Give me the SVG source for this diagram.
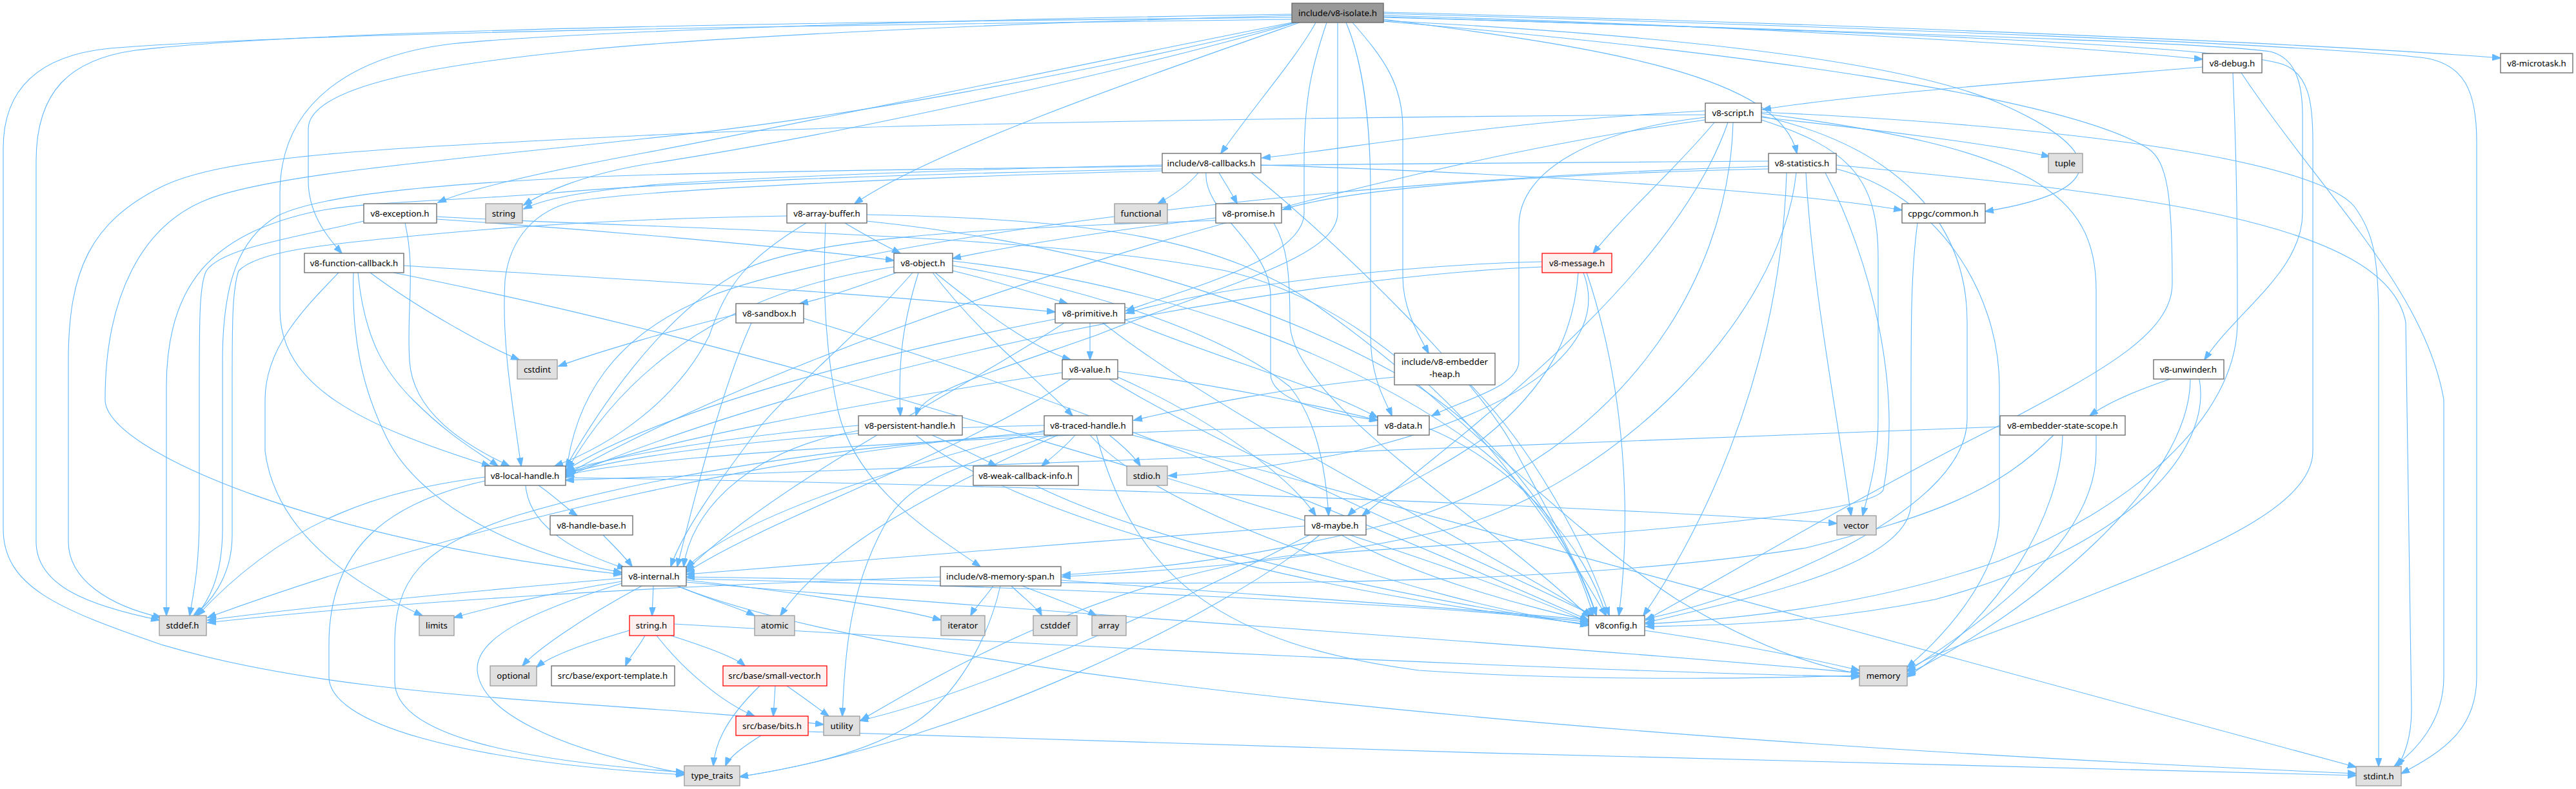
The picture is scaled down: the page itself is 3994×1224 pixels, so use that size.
<svg xmlns="http://www.w3.org/2000/svg" width="3994" height="1224" viewBox="0 0 3994 1224">
<style>
.bg{fill:#fff}
.n rect{fill:#fff;stroke:#666;stroke-width:1.3}
.g rect{fill:#e0e0e0;stroke:#999;stroke-width:1.3}
.r rect{fill:#fff0f0;stroke:#f00;stroke-width:1.3}
.m rect{fill:#999;stroke:#666;stroke-width:1.3}
text{font-family:"Noto Sans","Open Sans","Liberation Sans",sans-serif;font-size:13.3px;text-anchor:middle;fill:#000}
#edges path{fill:none;stroke:#63b8ff;stroke-width:1.1;marker-end:url(#a)}
</style>
<defs>
<marker id="a" markerWidth="14" markerHeight="10" refX="13" refY="5" orient="auto" markerUnits="userSpaceOnUse"><path d="M0,0L14,5L0,10z" fill="#63b8ff" stroke="#63b8ff" stroke-width="0.8"/></marker>
</defs>
<rect class="bg" width="3994" height="1224"/>
<g id="edges">
<!-- isolate -->
<path d="M2003,30 C1400,38 500,48 170,75 C70,85 5,130 5,230 L5,820 C5,910 90,945 250,1000 C550,1090 950,1085 1277,1124"/>
<path d="M2003,27 C1400,33 500,43 210,78 C110,92 56,140 56,250 L56,840 C56,910 140,940 247,962"/>
<path d="M2008,35 C1700,110 1300,185 1000,215 C700,248 420,270 320,310 C220,350 163,460 163,620 C163,700 500,840 964,891"/>
<path d="M2003,35 C1700,95 1250,190 1000,237 C850,265 730,292 679,314"/>
<path d="M2010,35 C1750,110 1300,210 1000,255 C900,272 840,300 812,318"/>
<path d="M2003,24 C1500,38 1100,58 900,78 C700,98 478,130 478,200 L478,280 C478,330 505,365 530,393"/>
<path d="M2003,22 C1500,30 900,48 700,68 C560,85 434,150 434,300 L434,480 C434,600 560,660 760,723"/>
<path d="M2015,35 C1800,110 1450,230 1325,316"/>
<path d="M2040,35 C2010,90 1940,170 1893,238"/>
<path d="M2087,35 C2115,100 2125,200 2125,300 L2125,520 C2125,590 2150,625 2158,645"/>
<path d="M2097,35 C2145,90 2175,130 2175,200 L2175,430 C2175,480 2200,520 2215,548"/>
<path d="M2074,35 L2074,330 C2074,400 1900,440 1700,520 C1500,590 1430,610 1420,645"/>
<path d="M2057,35 C2035,100 2022,150 2022,250 L2022,330 C2022,400 1850,445 1746,482"/>
<path d="M2145,24 C2700,40 3200,70 3415,92"/>
<path d="M2145,19 C2900,38 3600,68 3877,90"/>
<path d="M2145,30 C2500,75 2760,120 2786,238"/>
<path d="M2145,32 C2600,55 2950,95 3100,160 C3260,230 3280,295 3078,328"/>
<path d="M2145,26 C2800,48 3400,63 3520,80 C3560,90 3570,130 3570,180 L3570,330 C3570,420 3470,480 3418,558"/>
<path d="M2145,21 C2900,42 3600,70 3760,90 C3820,100 3840,140 3840,220 L3840,1050 C3840,1130 3790,1165 3723,1200"/>
<path d="M2145,27 C2800,45 3450,70 3540,100 C3580,115 3586,160 3586,220 L3586,700 C3586,790 3400,860 3250,920 C3100,980 3000,1010 2957,1040"/>
<path d="M2145,33 C2700,80 3200,150 3330,230 C3360,250 3368,300 3368,440 C3368,520 3250,580 3100,660 C2900,760 2700,880 2552,962"/>
<!-- debug -->
<path d="M3415,104 C3100,130 2850,150 2733,170"/>
<path d="M3462,113 C3468,250 3469,350 3469,500 C3469,650 3300,790 3100,870 C2900,940 2700,960 2552,968"/>
<path d="M3475,113 C3600,300 3760,450 3789,620 L3789,1050 C3789,1120 3745,1165 3712,1189"/>
<!-- script -->
<path d="M2644,172 C2300,190 2100,230 1957,245"/>
<path d="M2644,178 C2200,180 1400,190 1000,210 C600,230 350,240 250,290 C140,345 106,420 106,560 L106,840 C106,900 170,940 250,958"/>
<path d="M2658,190 C2600,260 2520,330 2470,393"/>
<path d="M2644,182 C2480,200 2355,260 2355,350 L2355,560 C2355,600 2270,620 2220,645"/>
<path d="M2644,186 C2100,260 1300,500 880,735"/>
<path d="M2679,190 C2600,420 2300,650 2112,800"/>
<path d="M2687,190 C2680,450 2500,700 2200,800 C1950,870 1750,885 1647,892"/>
<path d="M2731,182 C2900,200 3100,225 3178,243"/>
<path d="M2731,186 C2870,230 2912,280 2912,400 L2912,650 C2912,720 2895,770 2888,800"/>
<path d="M2731,180 C2950,230 3050,350 3050,500 L3050,650 C3050,800 2700,930 2552,960"/>
<path d="M2731,176 C3150,230 3250,300 3250,450 L3250,700 C3250,850 3050,980 2957,1042"/>
<path d="M2731,174 C3300,200 3600,260 3650,320 C3680,360 3688,400 3688,500 L3688,1189"/>
<!-- statistics -->
<path d="M2742,250 C2000,255 1200,262 900,275 C700,285 500,300 430,335 C370,370 345,440 345,560 L345,820 C345,900 320,935 305,955"/>
<path d="M2742,258 C2000,280 1300,380 1100,460 C950,520 890,620 877,740"/>
<path d="M2742,262 C2400,270 2100,290 1989,325"/>
<path d="M2785,268 C2760,500 2500,750 2250,820 C2000,880 1750,887 1647,895"/>
<path d="M2800,268 C2810,450 2850,650 2870,800"/>
<path d="M2830,268 C2900,400 2950,600 2920,760 C2900,800 2500,830 2000,862 C1700,900 1450,1050 1335,1117"/>
<path d="M2847,262 C3000,300 3100,450 3100,600 L3100,800 C3100,900 3000,1000 2957,1035"/>
<path d="M2847,256 C3300,300 3700,340 3730,500 L3739,1100 C3739,1150 3725,1175 3718,1189"/>
<path d="M2770,268 C2760,600 2620,850 2548,955"/>
<!-- callbacks -->
<path d="M1858,268 C1840,290 1815,305 1795,316"/>
<path d="M1890,268 C1900,285 1910,300 1918,316"/>
<path d="M1802,256 C1500,262 1100,278 1000,288 C900,298 845,308 812,324"/>
<path d="M1802,262 C1400,270 1000,285 850,300 C700,312 560,312 480,330 C330,365 258,440 258,600 L258,955"/>
<path d="M1802,265 C1400,275 1000,295 893,312 C830,325 790,370 783,435 C778,520 790,600 808,723"/>
<path d="M1955,256 C2400,270 2800,300 2949,326"/>
<path d="M1870,268 C1865,330 1970,380 1970,460 L1970,580 C1970,620 2050,640 2136,652"/>
<path d="M1940,268 C2100,400 2300,600 2350,700 C2420,830 2460,900 2475,955"/>
<!-- array buffer -->
<path d="M1310,346 C1350,370 1380,385 1396,393"/>
<path d="M1220,335 C900,340 700,360 600,370 C500,380 400,390 370,420 C360,450 360,500 360,600 L360,830 C360,900 320,940 300,955"/>
<path d="M1250,346 C1160,400 1127,440 1100,520 C1050,620 950,690 860,723"/>
<path d="M1280,346 C1275,450 1280,550 1300,640 C1330,760 1450,830 1520,879"/>
<path d="M1344,333 C1700,340 1900,370 2050,480 C2250,620 2400,800 2600,930 C2750,1020 2850,1040 2883,1045"/>
<path d="M1344,343 C1700,380 2000,480 2200,600 C2380,720 2450,880 2470,955"/>
<!-- exception -->
<path d="M564,343 C450,370 344,385 320,420 C309,440 309,500 309,600 L309,800 C309,880 300,920 294,955"/>
<path d="M628,346 C645,420 630,480 635,560 C640,640 720,690 790,723"/>
<path d="M677,340 C900,355 1200,380 1386,404"/>
<path d="M677,336 C1000,355 1600,360 1900,420 C2200,490 2400,800 2490,955"/>
<!-- function callback -->
<path d="M574,423 C650,480 760,540 805,558"/>
<path d="M525,423 C470,480 411,540 411,620 L411,700 C430,850 600,930 655,955"/>
<path d="M548,423 C545,520 560,600 600,680 C650,780 800,860 964,888"/>
<path d="M555,423 C565,530 600,580 640,620 C700,680 740,700 772,723"/>
<path d="M626,412 C900,430 1300,450 1636,484"/>
<path d="M610,423 C900,480 1200,560 1400,620 C1700,710 2200,850 2463,965"/>
<!-- promise -->
<path d="M1885,338 C1700,360 1550,385 1477,401"/>
<path d="M1885,342 C1500,355 1250,370 1150,420 C1020,490 920,650 877,725"/>
<path d="M1975,346 C1995,380 2000,420 2000,500 C2000,620 2300,800 2465,958"/>
<!-- cppgc -->
<path d="M2973,346 C2963,420 2963,500 2963,620 L2963,780 C2963,880 2700,930 2552,966"/>
<!-- object -->
<path d="M1390,423 C1330,445 1270,465 1240,471"/>
<path d="M1477,420 C1560,440 1620,460 1655,471"/>
<path d="M1450,423 C1520,480 1600,540 1660,558"/>
<path d="M1386,414 C1200,440 1000,520 880,728"/>
<path d="M1415,423 C1330,520 1230,600 1180,660 C1120,740 1060,820 1040,879"/>
<path d="M1424,423 C1400,500 1392,560 1396,645"/>
<path d="M1446,423 C1520,520 1600,580 1663,645"/>
<path d="M1477,412 C1700,450 1900,520 2000,600 C2040,650 2055,720 2060,800"/>
<path d="M1477,405 C1800,440 2100,550 2300,700 C2400,780 2450,880 2475,955"/>
<!-- message -->
<path d="M2391,406 C2200,410 1900,440 1746,486"/>
<path d="M2391,414 C2000,430 1300,560 877,740"/>
<path d="M2447,423 C2440,520 2400,600 2300,680 C2200,750 2110,780 2090,800"/>
<path d="M2455,423 C2500,540 2350,640 2100,700 C1950,730 1850,736 1812,738"/>
<path d="M2460,423 C2520,600 2530,800 2510,955"/>
<!-- sandbox -->
<path d="M1141,488 C1050,510 930,545 866,568"/>
<path d="M1165,501 C1120,600 1080,760 1050,879"/>
<path d="M1246,494 C1600,600 2100,800 2463,962"/>
<!-- primitive -->
<path d="M1690,501 L1690,558"/>
<path d="M1744,496 C1900,560 2050,600 2136,648"/>
<path d="M1650,501 C1500,600 1200,750 1064,885"/>
<path d="M1636,495 C1300,560 1000,650 877,730"/>
<path d="M1710,501 C1900,650 2300,850 2468,955"/>
<!-- value -->
<path d="M1733,576 C1900,600 2050,630 2136,652"/>
<path d="M1660,588 C1500,700 1200,800 1064,888"/>
<path d="M1647,578 C1300,630 1000,690 877,735"/>
<path d="M1733,585 C1880,650 2000,740 2040,800"/>
<path d="M1720,588 C1900,700 2300,870 2470,955"/>
<!-- embedder heap -->
<path d="M2162,585 C2000,600 1850,630 1758,652"/>
<path d="M2280,597 C2380,700 2460,850 2495,955"/>
<!-- unwinder -->
<path d="M3365,588 C3300,610 3260,630 3240,645"/>
<path d="M3396,588 C3396,750 3150,950 2957,1046"/>
<path d="M3410,588 C3430,700 3300,850 3000,930 C2800,970 2650,970 2552,972"/>
<!-- persistent -->
<path d="M1331,668 C1150,700 1070,800 1060,879"/>
<path d="M1331,660 C1100,680 950,710 877,730"/>
<path d="M1445,675 C1480,690 1520,710 1545,723"/>
<path d="M1420,675 C1600,820 2100,930 2463,968"/>
<!-- traced -->
<path d="M1667,675 C1650,695 1630,710 1615,723"/>
<path d="M1720,675 C1745,695 1760,710 1768,723"/>
<path d="M1619,660 C1300,665 1000,700 877,735"/>
<path d="M1619,668 C1400,720 1150,800 1064,880"/>
<path d="M1619,670 C1200,700 700,820 322,958"/>
<path d="M1640,675 C1450,760 1280,850 1210,955"/>
<path d="M1630,675 C1500,720 1420,740 1380,800 C1320,900 1310,1000 1306,1111"/>
<path d="M1619,673 C1300,690 1000,740 800,800 C650,850 612,900 612,1000 L612,1057 C612,1140 800,1180 1061,1198"/>
<path d="M1700,675 C1760,900 1900,1000 2200,1040 C2500,1060 2800,1050 2883,1048"/>
<path d="M1756,675 L3653,1190"/>
<path d="M1690,675 C1800,800 2200,930 2463,970"/>
<!-- data -->
<path d="M2136,660 C1800,665 1000,700 877,738"/>
<path d="M2216,665 C2350,720 2460,850 2490,955"/>
<!-- embedder state scope -->
<path d="M3198,675 C3195,800 3100,960 2957,1050"/>
<path d="M3184,675 C3100,760 3000,800 2800,850 C2300,930 1500,900 1064,895"/>
<path d="M3101,662 C2500,690 1500,720 877,745"/>
<!-- local handle -->
<path d="M752,740 C600,760 450,800 306,955"/>
<path d="M752,746 C600,780 510,850 510,1000 L510,1050 C510,1120 700,1180 1061,1202"/>
<path d="M877,741 C1500,750 2400,780 2848,812"/>
<path d="M835,753 C860,770 880,790 895,800"/>
<path d="M815,753 C820,820 900,860 970,882"/>
<!-- weak cb -->
<path d="M1605,753 C1800,850 2200,930 2463,970"/>
<!-- handle base -->
<path d="M935,830 C955,850 970,865 980,879"/>
<!-- maybe -->
<path d="M2023,816 C1700,840 1300,870 1064,891"/>
<path d="M2046,830 C1900,950 1500,1150 1147,1205"/>
<path d="M2030,830 C1800,950 1500,1080 1333,1118"/>
<path d="M2080,830 C2200,900 2400,950 2463,962"/>
<!-- internal -->
<path d="M964,897 C700,920 450,945 322,962"/>
<path d="M964,902 C850,920 750,945 704,958"/>
<path d="M1013,909 L1011,955"/>
<path d="M1050,909 C1100,930 1150,945 1170,955"/>
<path d="M1064,900 C1250,920 1400,945 1459,962"/>
<path d="M995,909 C900,960 830,1010 810,1033"/>
<path d="M964,905 C820,950 737,990 740,1040 C745,1100 850,1160 1061,1200"/>
<path d="M1064,903 C1600,950 2400,1000 2883,1044"/>
<path d="M1050,909 C1400,1050 2500,1150 3653,1200"/>
<path d="M1064,898 C1600,910 2200,935 2463,965"/>
<!-- memory span -->
<path d="M1540,909 C1525,930 1510,945 1505,955"/>
<path d="M1568,909 C1590,930 1610,945 1615,955"/>
<path d="M1585,909 C1640,930 1680,945 1700,955"/>
<path d="M1551,909 C1530,1000 1480,1080 1420,1120 C1340,1170 1240,1190 1147,1205"/>
<path d="M1458,895 C1000,910 600,935 322,966"/>
<path d="M1645,900 C1900,920 2300,945 2463,962"/>
<!-- string.h -->
<path d="M976,978 C900,1000 850,1020 832,1035"/>
<path d="M1000,986 C990,1005 975,1020 970,1033"/>
<path d="M1040,986 C1100,1005 1140,1020 1155,1033"/>
<path d="M1018,986 C1060,1040 1120,1090 1170,1111"/>
<path d="M1045,968 C1600,1000 2400,1040 2883,1050"/>
<!-- small vector -->
<path d="M1202,1064 L1199,1111"/>
<path d="M1220,1064 C1250,1085 1270,1100 1285,1111"/>
<path d="M1178,1064 C1120,1120 1108,1160 1106,1188"/>
<!-- bits -->
<path d="M1180,1141 C1150,1160 1130,1175 1125,1188"/>
<path d="M1253,1135 C2000,1160 3000,1190 3653,1203"/>
<!-- v8config -->
<path d="M2550,978 C2700,1000 2800,1020 2883,1040"/>
</g>
<g id="n-isolate" class="m"><rect x="2003" y="5" width="142" height="30"/><text x="2074" y="24.5">include/v8-isolate.h</text></g>
<g id="n-debug" class="n"><rect x="3415" y="83" width="92" height="30"/><text x="3461" y="102.5">v8-debug.h</text></g>
<g id="n-microtask" class="n"><rect x="3877" y="83" width="112" height="30"/><text x="3933" y="102.5">v8-microtask.h</text></g>
<g id="n-script" class="n"><rect x="2644" y="160" width="87" height="30"/><text x="2687" y="179.5">v8-script.h</text></g>
<g id="n-callbacks" class="n"><rect x="1802" y="238" width="153" height="30"/><text x="1878" y="257.5">include/v8-callbacks.h</text></g>
<g id="n-statistics" class="n"><rect x="2742" y="238" width="105" height="30"/><text x="2794" y="257.5">v8-statistics.h</text></g>
<g id="n-tuple" class="g"><rect x="3176" y="238" width="53" height="30"/><text x="3202" y="257.5">tuple</text></g>
<g id="n-exception" class="n"><rect x="564" y="316" width="113" height="30"/><text x="620" y="335.5">v8-exception.h</text></g>
<g id="n-string" class="g"><rect x="753" y="316" width="57" height="30"/><text x="781" y="335.5">string</text></g>
<g id="n-arraybuffer" class="n"><rect x="1220" y="316" width="124" height="30"/><text x="1282" y="335.5">v8-array-buffer.h</text></g>
<g id="n-functional" class="g"><rect x="1728" y="316" width="82" height="30"/><text x="1769" y="335.5">functional</text></g>
<g id="n-promise" class="n"><rect x="1885" y="316" width="102" height="30"/><text x="1936" y="335.5">v8-promise.h</text></g>
<g id="n-cppgc" class="n"><rect x="2949" y="316" width="129" height="30"/><text x="3013" y="335.5">cppgc/common.h</text></g>
<g id="n-fcb" class="n"><rect x="472" y="393" width="154" height="30"/><text x="549" y="412.5">v8-function-callback.h</text></g>
<g id="n-object" class="n"><rect x="1386" y="393" width="91" height="30"/><text x="1431" y="412.5">v8-object.h</text></g>
<g id="n-message" class="r"><rect x="2391" y="393" width="108" height="30"/><text x="2445" y="412.5">v8-message.h</text></g>
<g id="n-sandbox" class="n"><rect x="1141" y="471" width="105" height="30"/><text x="1193" y="490.5">v8-sandbox.h</text></g>
<g id="n-primitive" class="n"><rect x="1636" y="471" width="108" height="30"/><text x="1690" y="490.5">v8-primitive.h</text></g>
<g id="n-cstdint" class="g"><rect x="802" y="558" width="62" height="30"/><text x="833" y="577.5">cstdint</text></g>
<g id="n-value" class="n"><rect x="1647" y="558" width="86" height="30"/><text x="1690" y="577.5">v8-value.h</text></g>
<g id="n-embedderheap" class="n"><rect x="2162" y="548" width="156" height="49"/><text x="2240" y="566">include/v8-embedder</text><text x="2240" y="585">-heap.h</text></g>
<g id="n-unwinder" class="n"><rect x="3339" y="558" width="109" height="30"/><text x="3393" y="577.5">v8-unwinder.h</text></g>
<g id="n-persistent" class="n"><rect x="1331" y="645" width="161" height="30"/><text x="1411" y="664.5">v8-persistent-handle.h</text></g>
<g id="n-traced" class="n"><rect x="1619" y="645" width="137" height="30"/><text x="1687" y="664.5">v8-traced-handle.h</text></g>
<g id="n-data" class="n"><rect x="2136" y="645" width="80" height="30"/><text x="2176" y="664.5">v8-data.h</text></g>
<g id="n-ess" class="n"><rect x="3101" y="645" width="194" height="30"/><text x="3198" y="664.5">v8-embedder-state-scope.h</text></g>
<g id="n-localhandle" class="n"><rect x="752" y="723" width="125" height="30"/><text x="814" y="742.5">v8-local-handle.h</text></g>
<g id="n-weakcb" class="n"><rect x="1509" y="723" width="163" height="30"/><text x="1590" y="742.5">v8-weak-callback-info.h</text></g>
<g id="n-stdio" class="g"><rect x="1747" y="723" width="63" height="30"/><text x="1778" y="742.5">stdio.h</text></g>
<g id="n-handlebase" class="n"><rect x="853" y="800" width="128" height="30"/><text x="917" y="819.5">v8-handle-base.h</text></g>
<g id="n-maybe" class="n"><rect x="2023" y="800" width="95" height="30"/><text x="2070" y="819.5">v8-maybe.h</text></g>
<g id="n-vector" class="g"><rect x="2848" y="800" width="61" height="30"/><text x="2878" y="819.5">vector</text></g>
<g id="n-internal" class="n"><rect x="964" y="879" width="100" height="30"/><text x="1014" y="898.5">v8-internal.h</text></g>
<g id="n-memspan" class="n"><rect x="1458" y="879" width="187" height="30"/><text x="1551" y="898.5">include/v8-memory-span.h</text></g>
<g id="n-stddef" class="g"><rect x="247" y="955" width="73" height="31"/><text x="283" y="975">stddef.h</text></g>
<g id="n-limits" class="g"><rect x="650" y="955" width="54" height="31"/><text x="677" y="975">limits</text></g>
<g id="n-stringh" class="r"><rect x="976" y="955" width="69" height="31"/><text x="1010" y="975">string.h</text></g>
<g id="n-atomic" class="g"><rect x="1170" y="955" width="62" height="31"/><text x="1201" y="975">atomic</text></g>
<g id="n-iterator" class="g"><rect x="1459" y="955" width="68" height="31"/><text x="1493" y="975">iterator</text></g>
<g id="n-cstddef" class="g"><rect x="1602" y="955" width="68" height="31"/><text x="1636" y="975">cstddef</text></g>
<g id="n-array" class="g"><rect x="1693" y="955" width="53" height="31"/><text x="1719" y="975">array</text></g>
<g id="n-v8config" class="n"><rect x="2463" y="955" width="87" height="31"/><text x="2506" y="975">v8config.h</text></g>
<g id="n-optional" class="g"><rect x="760" y="1033" width="72" height="31"/><text x="796" y="1053">optional</text></g>
<g id="n-exporttemplate" class="n"><rect x="855" y="1033" width="191" height="31"/><text x="950" y="1053">src/base/export-template.h</text></g>
<g id="n-smallvector" class="r"><rect x="1121" y="1033" width="161" height="31"/><text x="1201" y="1053">src/base/small-vector.h</text></g>
<g id="n-memory" class="g"><rect x="2883" y="1033" width="74" height="31"/><text x="2920" y="1053">memory</text></g>
<g id="n-bits" class="r"><rect x="1141" y="1111" width="112" height="30"/><text x="1197" y="1130.5">src/base/bits.h</text></g>
<g id="n-utility" class="g"><rect x="1277" y="1111" width="56" height="30"/><text x="1305" y="1130.5">utility</text></g>
<g id="n-typetraits" class="g"><rect x="1061" y="1188" width="86" height="31"/><text x="1104" y="1208">type_traits</text></g>
<g id="n-stdint" class="g"><rect x="3653" y="1189" width="70" height="30"/><text x="3688" y="1208.5">stdint.h</text></g>
</svg>
